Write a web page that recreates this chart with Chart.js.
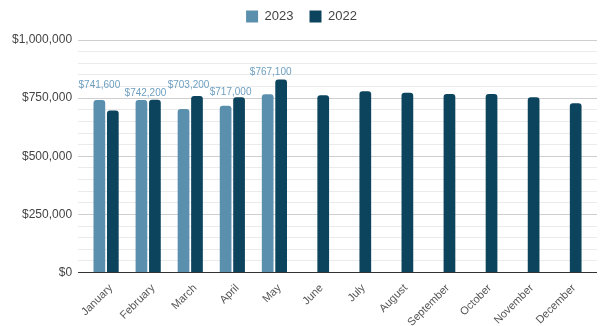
<!DOCTYPE html>
<html>
<head>
<meta charset="utf-8">
<script src="https://cdn.jsdelivr.net/npm/chart.js@4.4.1/dist/chart.umd.min.js"></script>
<style>
  html, body { margin: 0; padding: 0; background: #fff; }
  #wrap { width: 600px; height: 326px; position: relative; }
</style>
</head>
<body>
<div id="wrap"><canvas id="salesChart"></canvas></div>
<script>
// Monthly totals, this year vs last year
const months = ["January", "February", "March", "April", "May", "June",
  "July", "August", "September", "October", "November", "December"];
const sales2023 = [741600, 742200, 703200, 717000, 767100, null, null, null, null, null, null, null];
const sales2022 = [697000, 743000, 759000, 754000, 830000, 763000, 780000, 773000, 768000, 768000, 754000, 728000];
const yTicks = [0, 250000, 500000, 750000, 1000000];

const color2023 = "#5a8fae";
const color2022 = "#0c445e";
const fontFamily = "'Liberation Sans', Arial, sans-serif";

const money = v => "$" + v.toLocaleString("en-US");

// small nudges so the value labels don't collide with each other
const labelShift = [[0, 0], [4, 8], [5, -9], [5, 1], [3, -7]];

const valueLabels = {
  id: "valueLabels",
  afterDatasetsDraw(chart) {
    const ctx = chart.ctx;
    const meta = chart.getDatasetMeta(0);
    ctx.save();
    ctx.font = "10px " + fontFamily;
    ctx.fillStyle = "#6e9fc0";
    ctx.textAlign = "center";
    ctx.textBaseline = "alphabetic";
    meta.data.forEach((bar, i) => {
      const v = sales2023[i];
      if (v == null) return;
      const s = labelShift[i] || [0, 0];
      ctx.fillText(money(v), bar.x + s[0], bar.y - 12 + s[1]);
    });
    ctx.restore();
  }
};

// a bit more room between the legend and the plot
const legendGap = {
  id: "legendGap",
  beforeInit(chart) {
    const fit = chart.legend.fit;
    chart.legend.fit = function () {
      fit.call(this);
      this.height += 7;
    };
  }
};

function gridColor(c) {
  const v = c.tick.value;
  if (v === 0) return "#333333";
  return yTicks.includes(v) ? "#cfcfcf" : "#ebebeb";
}

const chart = new Chart(document.getElementById("salesChart"), {
  type: "bar",
  data: {
    labels: months,
    datasets: [
      {
        label: "2023",
        data: sales2023,
        backgroundColor: color2023,
        borderRadius: 3,
        categoryPercentage: 0.64,
        barPercentage: 0.87
      },
      {
        label: "2022",
        data: sales2022,
        backgroundColor: color2022,
        borderRadius: 3,
        categoryPercentage: 0.64,
        barPercentage: 0.87
      }
    ]
  },
  options: {
    responsive: true,
    maintainAspectRatio: false,
    animation: false,
    layout: { padding: { left: 6, right: 3, top: -6, bottom: -4 } },
    plugins: {
      legend: {
        position: "top",
        labels: {
          boxWidth: 12,
          boxHeight: 12,
          padding: 16,
          color: "#444",
          font: { family: fontFamily, size: 13 }
        }
      },
      tooltip: { enabled: false }
    },
    scales: {
      x: {
        grid: { display: false },
        border: { display: false },
        ticks: {
          color: "#555",
          maxRotation: 45,
          minRotation: 45,
          autoSkip: false,
          padding: 1,
          labelOffset: 5,
          font: { family: fontFamily, size: 11 }
        }
      },
      y: {
        min: 0,
        max: 1000000,
        grid: { color: gridColor, tickLength: 7 },
        border: { display: false },
        ticks: {
          stepSize: 50000,
          autoSkip: false,
          padding: 6,
          color: "#444",
          font: { family: fontFamily, size: 12 },
          callback: v => yTicks.includes(v) ? money(v) : ""
        }
      },
      // right-hand stub so the gridlines run past the last bar group
      y2: {
        position: "right",
        min: 0,
        max: 1000000,
        grid: { color: gridColor, tickLength: 7, drawOnChartArea: false },
        border: { display: false },
        ticks: { stepSize: 50000, autoSkip: false, display: false }
      }
    }
  },
  plugins: [valueLabels, legendGap]
});
</script>
</body>
</html>
